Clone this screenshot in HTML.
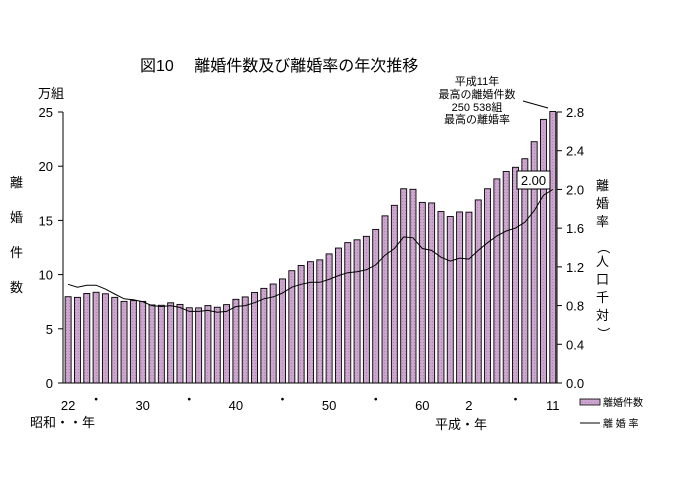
<!DOCTYPE html>
<html><head><meta charset="utf-8"><style>
body{margin:0;background:#fff;}
svg text{font-family:"Liberation Sans","Noto Sans CJK JP",sans-serif;fill:#000;}
</style></head><body>
<svg id="chart" width="675" height="490" xmlns="http://www.w3.org/2000/svg">
<defs><pattern id="hatch" width="3" height="3" patternUnits="userSpaceOnUse"><rect width="3" height="3" fill="#cda6cf"/><rect width="1" height="1" fill="#b286b4"/></pattern></defs>
<text x="140" y="71" font-size="16">図10　 離婚件数及び離婚率の年次推移</text>
<text x="38" y="98" font-size="13">万組</text>
<g font-size="13">
<text x="10" y="187">離</text><text x="10" y="222">婚</text><text x="10" y="257">件</text><text x="10" y="292">数</text></g>
<g font-size="13">
<text x="596" y="190">離</text><text x="596" y="208">婚</text><text x="596" y="226">率</text>
<text x="598" y="250" transform="rotate(90 603 246)">（</text>
<text x="596" y="266">人</text><text x="596" y="284">口</text><text x="596" y="302">千</text><text x="596" y="320">対</text>
<text x="598" y="336" transform="rotate(90 603 332)">）</text></g>
<g id="bars"></g>
<g id="axes"></g>
<path id="rate" fill="none" stroke="#000" stroke-width="1"/>
<g font-size="11" text-anchor="middle">
<text x="477" y="85">平成11年</text><text x="477" y="98">最高の離婚件数</text><text x="477" y="111">250 538組</text><text x="477" y="123">最高の離婚率</text>
<line x1="523" y1="101" x2="548" y2="108" stroke="#000"/></g>
<g><rect x="517" y="171" width="33" height="18" fill="#fff" stroke="#000"/><text x="533.5" y="185" font-size="13" text-anchor="middle">2.00</text></g>
<text x="30" y="427" font-size="13">昭和・・年</text>
<text x="435" y="429" font-size="13">平成・年</text>
<g>
<rect x="580" y="399" width="20" height="6" fill="url(#hatch)" stroke="#000" stroke-width="0.8"/>
<text x="603" y="406" font-size="10">離婚件数</text>
<line x1="580" y1="423" x2="600" y2="423" stroke="#000"/>
<text x="603" y="427" font-size="10">離 婚 率</text></g>
</svg>
<script>
const years=[22,23,24,25,26,27,28,29,30,31,32,33,34,35,36,37,38,39,40,41,42,43,44,45,46,47,48,49,50,51,52,53,54,55,56,57,58,59,60,61,62,63,1,2,3,4,5,6,7,8,9,10,11];
const divorces=[79.6,79.0,82.6,83.7,82.3,79.0,75.3,76.0,75.3,72.0,71.7,74.0,72.5,69.4,69.3,71.4,69.9,72.3,77.2,79.4,83.5,87.3,91.3,96.0,103.6,108.4,111.9,113.6,119.1,124.5,129.5,132.1,135.3,141.7,154.2,163.9,179.2,178.7,166.6,166.1,158.2,153.6,157.8,157.6,168.9,179.2,188.3,195.1,199.0,206.9,222.6,243.2,250.5];
const rates=[1.02,0.99,1.01,1.01,0.97,0.92,0.87,0.86,0.84,0.80,0.79,0.80,0.78,0.74,0.74,0.75,0.73,0.74,0.79,0.80,0.83,0.87,0.89,0.93,0.99,1.02,1.04,1.04,1.07,1.11,1.14,1.15,1.17,1.22,1.32,1.39,1.51,1.50,1.39,1.37,1.30,1.26,1.29,1.28,1.37,1.45,1.52,1.57,1.60,1.66,1.78,1.94,2.00];
const xLabels=["22","・","30","・","40","・","50","・","60","2","・","11"];
const xLabelIdx=[0,3,8,13,18,23,28,33,38,43,48,52];
const leftTicks=[0,5,10,15,20,25];
const rightTicks=["0.0","0.4","0.8","1.2","1.6","2.0","2.4","2.8"];
const NS="http://www.w3.org/2000/svg";
const X0=63,X1=557,Y0=383,Y1=112;
const step=(X1-X0)/years.length;
const xc=i=>X0+step*(i+0.55);
const yL=v=>Y0-(v/10)/25*(Y0-Y1);
const yR=v=>Y0-v/2.8*(Y0-Y1);
function mk(t,a,p){const e=document.createElementNS(NS,t);for(const k in a)e.setAttribute(k,a[k]);p.appendChild(e);return e;}
const bars=document.getElementById('bars');
divorces.forEach((v,i)=>{
 const r=mk('rect',{x:xc(i)-3,y:yL(v),width:6,height:Y0-yL(v),fill:'url(#hatch)',stroke:'#000','stroke-width':0.9},bars);
 
 
});
const ax=document.getElementById('axes');


mk('line',{x1:X0,y1:Y1,x2:X0,y2:Y0,stroke:'#000'},ax);
mk('line',{x1:X1,y1:Y1,x2:X1,y2:Y0,stroke:'#000'},ax);
mk('line',{x1:X0-4,y1:Y0,x2:X1,y2:Y0,stroke:'#000'},ax);
leftTicks.forEach(v=>{
 const y=yL(v*10);
 mk('line',{x1:X0-5,y1:y,x2:X0,y2:y,stroke:'#000'},ax);
 const t=mk('text',{x:X0-10,y:y+5,'font-size':13,'text-anchor':'end'},ax);t.textContent=v;
 
 
});
rightTicks.forEach(s=>{
 const y=yR(parseFloat(s));
 mk('line',{x1:X1,y1:y,x2:X1+5,y2:y,stroke:'#000'},ax);
 const t=mk('text',{x:X1+9,y:y+5,'font-size':13},ax);t.textContent=s;
 
 
});
xLabels.forEach((s,k)=>{
 const t=mk('text',{x:xc(xLabelIdx[k]),y:s==="・"?404:410,'font-size':13,'text-anchor':'middle'},ax);t.textContent=s;
 
 
});
document.getElementById('rate').setAttribute('d',rates.map((v,i)=>(i?'L':'M')+xc(i).toFixed(1)+','+yR(v).toFixed(1)).join(''));
</script>
</body></html>
